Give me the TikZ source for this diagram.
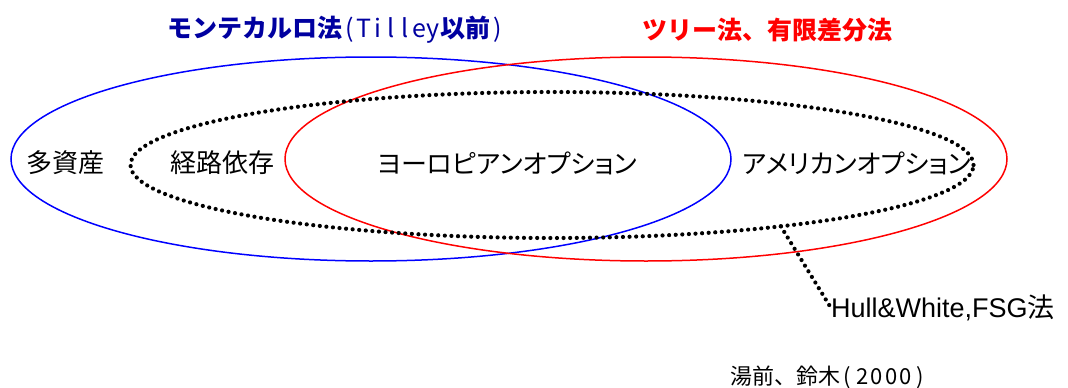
\documentclass[tikz,border=0pt]{standalone}
\usepackage{fontspec}
\setmainfont{Liberation Sans}
\newfontfamily\jp{Noto Sans CJK JP}
\newfontfamily\jpp[RawFeature=+palt]{Noto Sans CJK JP}
\usetikzlibrary{shapes.geometric}
\definecolor{tblue}{RGB}{0,0,160}
\definecolor{lblue}{RGB}{0,0,255}
\definecolor{lred}{RGB}{255,0,0}
\newcommand\hc[1]{\makebox[0.56em]{\mdseries #1}}
\newcommand\hd[1]{\makebox[0.66em]{#1}}
\begin{document}
\begin{tikzpicture}[x=1pt,y=-1pt,
  ring/.style={ellipse, draw, line width=1.5pt, inner sep=0pt, outer sep=0pt},
  dotring/.style={ellipse, draw, line width=4.2pt, line cap=round, dash pattern=on 0pt off 6.6pt, inner sep=0pt, outer sep=0pt},
  leader/.style={draw, line width=4.2pt, line cap=round, dash pattern=on 0pt off 6.6pt},
  lbl/.style={font=\jp\fontsize{26}{30}\selectfont, inner sep=0pt},
  lblp/.style={font=\jpp\fontsize{26}{30}\selectfont, inner sep=0pt},
  ttl/.style={font=\jp\bfseries\fontsize{25}{30}\selectfont, inner sep=0pt},
  src/.style={font=\jp\fontsize{22}{26}\selectfont, inner sep=0pt},
  hwlabel/.style={font=\fontsize{27}{31}\selectfont, inner sep=0pt}]
\useasboundingbox (0,0) rectangle (1068,388);
\node[ring, draw=lblue, minimum width=720pt, minimum height=204pt] (mc) at (371,159) {};
\node[ring, draw=lred, minimum width=722pt, minimum height=204pt] (tree) at (646,159) {};
\node[dotring, minimum width=843pt, minimum height=146pt] (hwset) at (552,165) {};

\node[lbl] (multi) at (66,163) {多資産};
\node[lbl] (path) at (222,163) {経路依存};
\node[lblp] (euro) at (507,163) {ヨーロピアンオプション};
\node[lblp] (amer) at (857,163) {アメリカンオプション};

\node[ttl, text=tblue] (t1) at (336,30) {モンテカルロ法\hc{(}\hc{T}\hc{i}\hc{l}\hc{l}\hc{e}\hc{y}以前\hc{)}};
\node[ttl, text=lred] (t2) at (767,30) {ツリー法、有限差分法};
\node[src] (source) at (829,377) {湯前、鈴木\hd{(}\hd{2}\hd{0}\hd{0}\hd{0}\hd{)}};
\node[hwlabel, anchor=west] (hwl) at (831,308) {Hull\&White,FSG{\jp 法}};

\draw[leader] (hwset.-15) -- (hwl.west);
\end{tikzpicture}
\end{document}
